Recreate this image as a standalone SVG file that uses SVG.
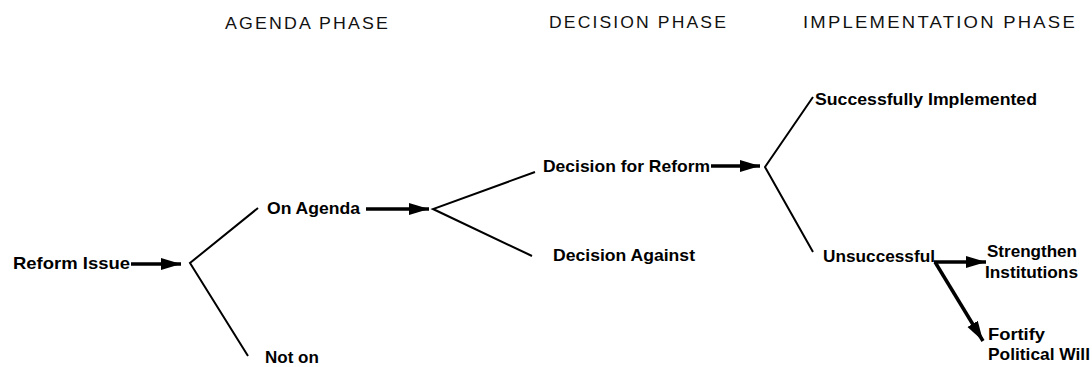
<svg xmlns="http://www.w3.org/2000/svg" width="1092" height="367" viewBox="0 0 1092 367">
<defs>
<style>
.hd{font-family:"Liberation Sans",Arial,sans-serif;font-size:16.5px;letter-spacing:2px;fill:#111;}
.lb{font-family:"Liberation Sans",Arial,sans-serif;font-size:17px;font-weight:bold;fill:#000;}
.br{stroke:#000;stroke-width:2;fill:none;}
.ar{stroke:#000;stroke-width:3.5;fill:none;marker-end:url(#ah);}
</style>
<marker id="ah" markerUnits="userSpaceOnUse" markerWidth="22" markerHeight="14" refX="20" refY="7" orient="auto">
<path d="M0,1 L20,7 L0,13 Z" fill="#000"/>
</marker>
</defs>
<rect width="1092" height="367" fill="#fff"/>
<g id="headers">
<text class="hd" x="225" y="29" textLength="165" lengthAdjust="spacingAndGlyphs">AGENDA PHASE</text>
<text class="hd" x="549" y="28" textLength="179" lengthAdjust="spacingAndGlyphs">DECISION PHASE</text>
<text class="hd" x="803" y="28" textLength="274" lengthAdjust="spacingAndGlyphs">IMPLEMENTATION PHASE</text>
</g>
<g id="connectors">
<line class="ar" x1="131" y1="264" x2="181" y2="264"/>
<polyline class="br" points="258,208 190,263 248,356"/>
<line class="ar" x1="366" y1="209" x2="429" y2="209"/>
<polyline class="br" points="535,172 433,209 532,256"/>
<line class="ar" x1="711" y1="166" x2="760" y2="166"/>
<polyline class="br" points="813,97 765,167 813,252"/>
<line class="ar" x1="934" y1="262" x2="986" y2="262"/>
<line class="ar" x1="935" y1="262" x2="983" y2="341"/>
</g>
<g id="reform-issue"><text class="lb" x="13" y="269" textLength="117" lengthAdjust="spacingAndGlyphs">Reform Issue</text></g>
<g id="on-agenda"><text class="lb" x="267" y="214" textLength="93" lengthAdjust="spacingAndGlyphs">On Agenda</text></g>
<g id="not-on"><text class="lb" x="265" y="363">Not on</text></g>
<g id="decision-for"><text class="lb" x="543" y="172" textLength="167" lengthAdjust="spacingAndGlyphs">Decision for Reform</text></g>
<g id="decision-against"><text class="lb" x="553" y="261" textLength="142" lengthAdjust="spacingAndGlyphs">Decision Against</text></g>
<g id="successfully"><text class="lb" x="815" y="105" textLength="222" lengthAdjust="spacingAndGlyphs">Successfully Implemented</text></g>
<g id="unsuccessful"><text class="lb" x="823" y="262" textLength="112" lengthAdjust="spacingAndGlyphs">Unsuccessful</text></g>
<g id="strengthen"><text class="lb" x="987" y="257" textLength="90" lengthAdjust="spacingAndGlyphs">Strengthen</text><text class="lb" x="985" y="278" textLength="93" lengthAdjust="spacingAndGlyphs">Institutions</text></g>
<g id="fortify"><text class="lb" x="988" y="340" textLength="57" lengthAdjust="spacingAndGlyphs">Fortify</text><text class="lb" x="988" y="360" textLength="102" lengthAdjust="spacingAndGlyphs">Political Will</text></g>
</svg>
